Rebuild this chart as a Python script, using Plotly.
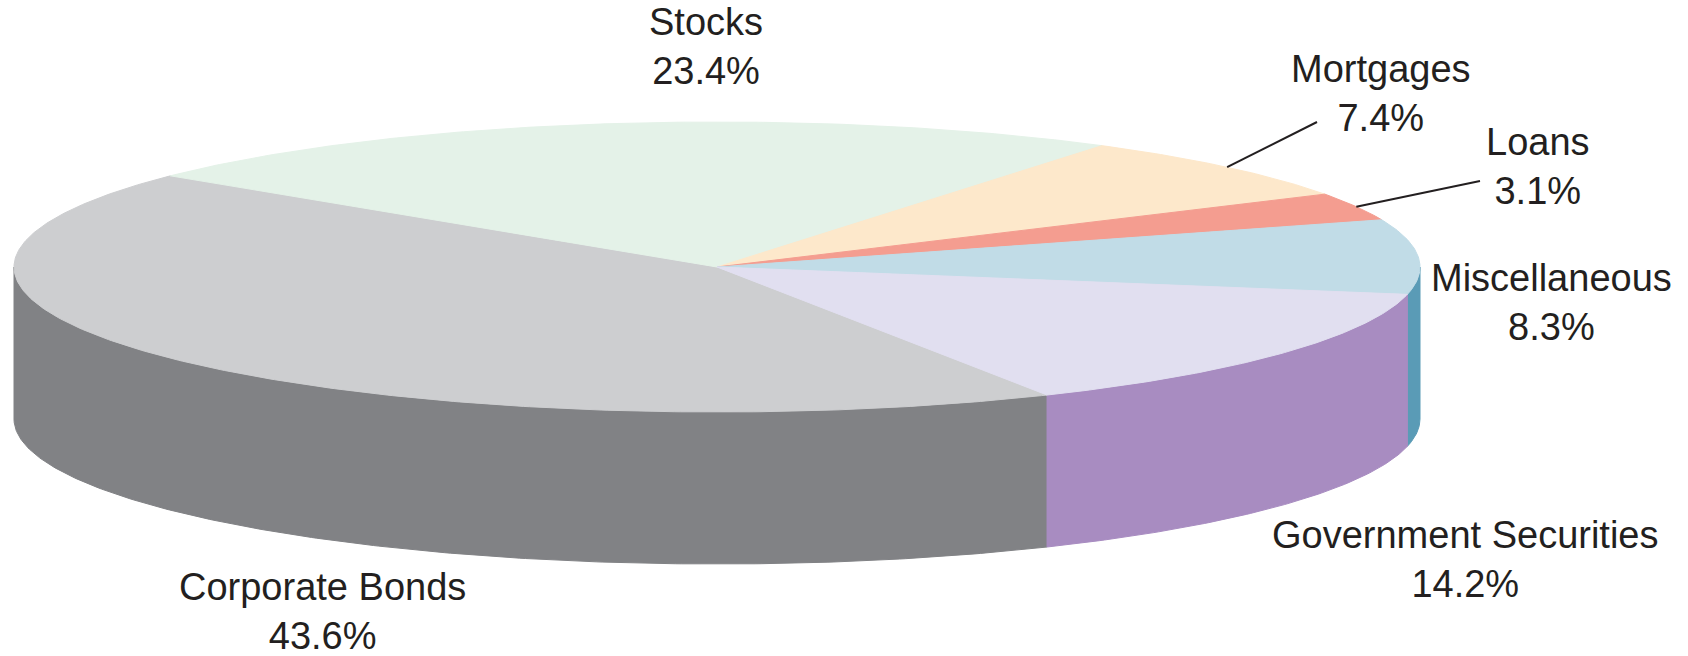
import numpy as np
import plotly.graph_objects as go

# ---- data ----
labels = ["Corporate Bonds", "Stocks", "Mortgages", "Loans", "Miscellaneous", "Government Securities"]
shares = [43.6, 23.4, 7.4, 3.1, 8.3, 14.2]
top_colors = ["#CDCED0", "#E4F2E8", "#FDE8CB", "#F49D90", "#C1DCE7", "#E1DFF0"]
side_colors = ["#818285", "#B9CDBF", "#E2C9A6", "#D9806F", "#5A9BB6", "#A88CC1"]

# ---- layout / style (pixel space of the page) ----
W, H = 1688, 656
CX, CY, RX, RY, DEPTH = 717, 267, 703, 145, 152
START = 298.0  # degrees (math convention), slices run clockwise
# label text centre positions and optional leader-line outer ends
label_pos = {
    "Corporate Bonds": (322, 611),
    "Stocks": (706, 46),
    "Mortgages": (1381, 93),
    "Loans": (1538, 166),
    "Miscellaneous": (1551, 302),
    "Government Securities": (1465, 559),
}
leader_end = {"Mortgages": (1317, 122), "Loans": (1480, 181)}

FONT = dict(family="Liberation Sans, Arial, Helvetica, sans-serif", size=38, color="#231F20")


def rim(deg, drop=0.0):
    r = np.radians(deg)
    return CX + RX * np.cos(r), CY - RY * np.sin(r) + drop


def arc(a_from, a_to, drop=0.0, n=None):
    if n is None:
        n = max(int(abs(a_to - a_from) * 2) + 2, 4)
    t = np.linspace(a_from, a_to, n)
    xs, ys = rim(t, drop)
    return list(xs), list(ys)


fig = go.Figure()

# slice angle spans (clockwise)
spans = []
acc = 0.0
for s in shares:
    a0 = START - acc * 3.6
    a1 = a0 - s * 3.6
    spans.append((a1, a0))
    acc += s

# side walls (front half only: sin < 0)
for i, (a1, a0) in enumerate(spans):
    for k in (-1, 0, 1):
        lo = max(a1, -180 + 360 * k)
        hi = min(a0, 0 + 360 * k)
        if hi - lo > 1e-6:
            tx, ty = arc(lo, hi, 0)
            bx, by = arc(hi, lo, DEPTH)
            fig.add_trace(go.Scatter(
                x=tx + bx + [tx[0]], y=ty + by + [ty[0]], mode="lines",
                fill="toself", fillcolor=side_colors[i],
                line=dict(color=side_colors[i], width=1),
                hoverinfo="skip", showlegend=False))

# top faces
for i, (a1, a0) in enumerate(spans):
    ax, ay = arc(a0, a1, 0)
    fig.add_trace(go.Scatter(
        x=[CX] + ax + [CX], y=[CY] + ay + [CY], mode="lines",
        fill="toself", fillcolor=top_colors[i],
        line=dict(color=top_colors[i], width=1),
        hoverinfo="skip", showlegend=False, name=labels[i]))

# leader lines
for i, (a1, a0) in enumerate(spans):
    lab = labels[i]
    if lab in leader_end:
        mx, my = rim((a0 + a1) / 2)
        ex, ey = leader_end[lab]
        fig.add_trace(go.Scatter(x=[mx, ex], y=[my, ey], mode="lines",
                                 line=dict(color="#231F20", width=2),
                                 hoverinfo="skip", showlegend=False))

# labels
for lab, s in zip(labels, shares):
    x, y = label_pos[lab]
    fig.add_annotation(x=x, y=y, xref="x", yref="y", text=f"{lab}<br>{s:.1f}%",
                       showarrow=False, font=FONT, xanchor="center", yanchor="middle",
                       align="center")

fig.update_xaxes(range=[0, W], visible=False, fixedrange=True)
fig.update_yaxes(range=[H, 0], visible=False, fixedrange=True)
fig.update_layout(width=W, height=H, margin=dict(l=0, r=0, t=0, b=0),
                  paper_bgcolor="white", plot_bgcolor="white", hovermode=False)

fig.write_html("out.html", config={"displayModeBar": False},
               post_script="document.body.style.margin='0';document.body.style.overflow='hidden';")
